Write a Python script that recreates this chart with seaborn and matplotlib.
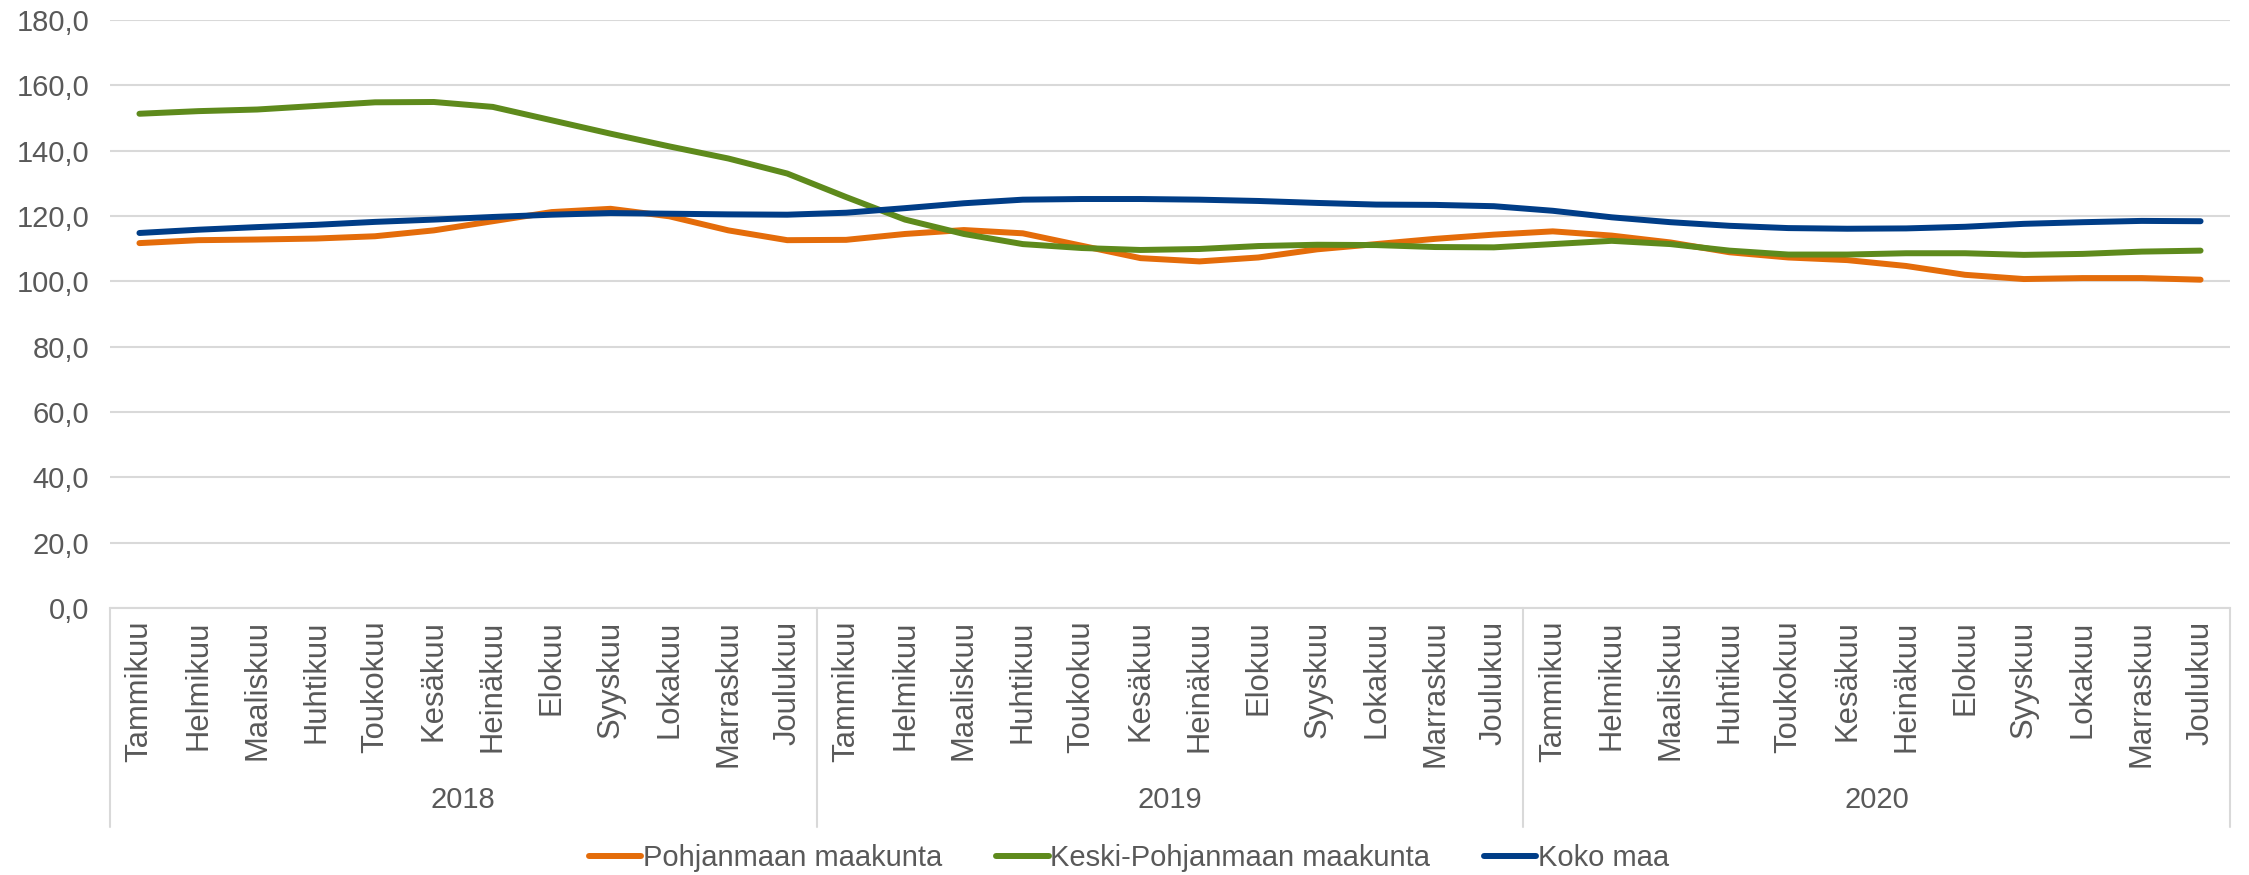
import matplotlib.pyplot as plt
import matplotlib.transforms as mtransforms
from matplotlib.ticker import FuncFormatter
import pandas as pd
import seaborn as sns
import numpy as np


# data
months = ['Tammikuu', 'Helmikuu', 'Maaliskuu', 'Huhtikuu', 'Toukokuu', 'Kesäkuu',
          'Heinäkuu', 'Elokuu', 'Syyskuu', 'Lokakuu', 'Marraskuu', 'Joulukuu']
years = ['2018', '2019', '2020']

pohjanmaa = [111.7, 112.6, 112.8, 113.1, 113.8, 115.6, 118.4, 121.2, 122.2, 119.9, 115.6, 112.6,
             112.7, 114.5, 115.7, 114.7, 110.9, 107.1, 106.1, 107.3, 109.8, 111.4, 113.0, 114.3,
             115.3, 114.0, 111.9, 108.9, 107.3, 106.5, 104.7, 102.0, 100.7, 101.0, 101.0, 100.5]
keski_pohjanmaa = [151.3, 152.1, 152.6, 153.7, 154.8, 154.9, 153.4, 149.3, 145.2, 141.3, 137.6, 133.0,
                   125.8, 118.9, 114.5, 111.4, 110.2, 109.6, 109.9, 110.8, 111.2, 111.1, 110.5, 110.4,
                   111.4, 112.4, 111.4, 109.4, 108.2, 108.2, 108.6, 108.6, 108.1, 108.4, 109.1, 109.4]
koko_maa = [114.8, 115.8, 116.6, 117.3, 118.2, 118.9, 119.7, 120.4, 120.9, 120.7, 120.5, 120.4,
            121.0, 122.4, 123.9, 125.0, 125.2, 125.2, 125.0, 124.6, 124.0, 123.5, 123.4, 123.0,
            121.6, 119.6, 118.1, 117.0, 116.3, 116.1, 116.2, 116.7, 117.6, 118.1, 118.5, 118.4]

series_names = ['Pohjanmaan maakunta', 'Keski-Pohjanmaan maakunta', 'Koko maa']
colors = ['#E46C0A', '#5E8A1C', '#003D87']

text_color = '#595959'
grid_color = '#D9D9D9'


# long format table for seaborn
n = len(months) * len(years)
df = pd.DataFrame({
    'kk': np.tile(np.arange(n), 3),
    'arvo': pohjanmaa + keski_pohjanmaa + koko_maa,
    'sarja': np.repeat(series_names, n),
})


sns.set_style('white')
plt.rcParams['font.family'] = ['Liberation Sans', 'DejaVu Sans']

fig = plt.figure(figsize=(22.49, 8.75), dpi=100)
ax = fig.add_axes([110 / 2249, 1 - 608 / 875, 2120 / 2249, 588 / 875])

sns.lineplot(data=df, x='kk', y='arvo', hue='sarja', hue_order=series_names,
             palette=colors, linewidth=4.3, ax=ax, solid_capstyle='round')

# y axis
ax.set_ylim(0, 180)
ax.set_yticks(np.arange(0, 181, 20))
ax.yaxis.set_major_formatter(FuncFormatter(lambda v, p: f'{v:.1f}'.replace('.', ',')))
ax.yaxis.grid(True, color=grid_color, linewidth=1.5)
ax.set_axisbelow(True)

# x axis: months rotated, years below
ax.set_xlim(-0.5, n - 0.5)
ax.set_xticks(np.arange(n))
ax.set_xticklabels(months * len(years), rotation=90, va='top', ha='center')
ax.tick_params(axis='x', length=0, pad=9, labelsize=22.3, labelcolor=text_color)
ax.tick_params(axis='y', length=0, pad=15, labelsize=21, labelcolor=text_color)
ax.set_xlabel('')
ax.set_ylabel('')

for side in ['top', 'right', 'left']:
    ax.spines[side].set_visible(False)
ax.spines['bottom'].set_color(grid_color)
ax.spines['bottom'].set_linewidth(1.5)

trans = mtransforms.blended_transform_factory(ax.transData, ax.transAxes)
for b in np.arange(len(years) + 1) * 12 - 0.5:
    ax.plot([b, b], [0, -0.372], color=grid_color, linewidth=1.5,
            transform=trans, clip_on=False)
for i, y in enumerate(years):
    ax.text(i * 12 + 5.5, -0.327, y, transform=trans, ha='center', va='center',
            fontsize=21, color=text_color)

# legend at bottom
handles, labels = ax.get_legend_handles_labels()
ax.get_legend().remove()
leg = fig.legend(handles, labels, loc='center', bbox_to_anchor=(0.502, 1 - 858 / 875),
                 ncol=3, frameon=False, fontsize=21, handlelength=1.8,
                 handletextpad=0.05, columnspacing=1.85)
for line in leg.get_lines():
    line.set_linewidth(4.3)
for t in leg.get_texts():
    t.set_color(text_color)

plt.savefig('out.png', dpi=100)
plt.close()
